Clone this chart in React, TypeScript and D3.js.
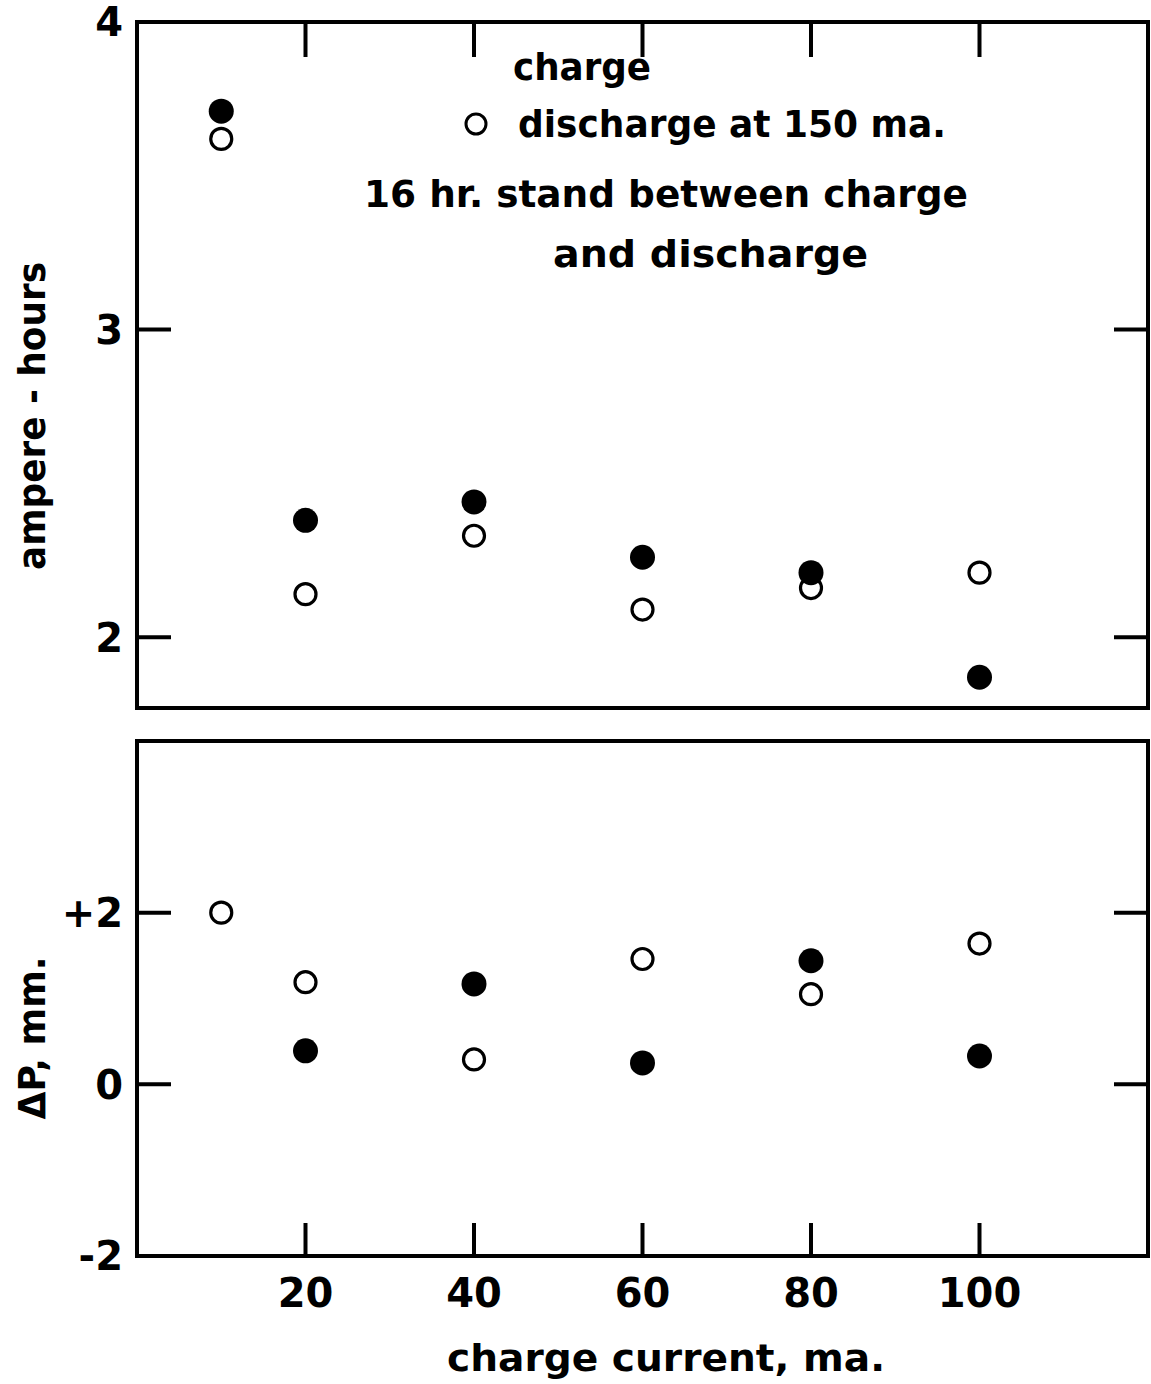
import * as d3 from 'd3'

// charge current, ma.
const currents = [10, 20, 40, 60, 80, 100]

// ampere-hours (top panel)
const chargeAh = [3.71, 2.38, 2.44, 2.26, 2.21, 1.87]
const dischargeAh = [3.62, 2.14, 2.33, 2.09, 2.16, 2.21]

// delta P, mm. (bottom panel); no charge point visible at 10 ma.
const chargeDP: (number | null)[] = [null, 0.39, 1.17, 0.25, 1.44, 0.33]
const dischargeDP = [2.0, 1.19, 0.29, 1.46, 1.05, 1.64]

const xTicks = [20, 40, 60, 80, 100]
const topTicks = [2, 3, 4]
const bottomTicks = [-2, 0, 2]
const bottomTickLabels = ['-2', '0', '+2']

const W = 1151
const H = 1384
const FONT = '"DejaVu Sans", Verdana, sans-serif'
const INK = '#000'

const left = 137
const right = 1148

const x = d3.scaleLinear().domain([0, 120]).range([left, right])
const yTop = d3.scaleLinear().domain([1.77, 4]).range([708, 22])
const yBot = d3.scaleLinear().domain([-2, 4]).range([1256, 741])

function Marker({ cx, cy, filled }: { cx: number; cy: number; filled: boolean }) {
  return filled
    ? <circle cx={cx} cy={cy} r={12.5} fill={INK} />
    : <circle cx={cx} cy={cy} r={10.5} fill="#fff" stroke={INK} strokeWidth={3.2} />
}

function Panel({
  y, yTicks, yLabels, charge, discharge, xTickLen, bottomTicksOn
}: {
  y: d3.ScaleLinear<number, number>
  yTicks: number[]
  yLabels: string[]
  charge: (number | null)[]
  discharge: (number | null)[]
  xTickLen: number
  bottomTicksOn: boolean
}) {
  const [y0, y1] = y.range()
  return (
    <g>
      <rect x={left} y={y1} width={right - left} height={y0 - y1} fill="none" stroke={INK} strokeWidth={4} />
      {yTicks.map((t, i) => (
        <g key={t}>
          <line x1={left} x2={left + 34} y1={y(t)} y2={y(t)} stroke={INK} strokeWidth={4} />
          <line x1={right - 34} x2={right} y1={y(t)} y2={y(t)} stroke={INK} strokeWidth={4} />
          <text x={left - 14} y={y(t)} dy="0.36em" textAnchor="end" fontFamily={FONT} fontWeight="bold" fontSize={40} fill={INK}>
            {yLabels[i]}
          </text>
        </g>
      ))}
      {xTicks.map(t => (
        <line key={t} x1={x(t)} x2={x(t)}
          y1={bottomTicksOn ? y0 : y1}
          y2={bottomTicksOn ? y0 - xTickLen : y1 + xTickLen}
          stroke={INK} strokeWidth={4} />
      ))}
      {currents.map((c, i) => discharge[i] == null ? null : (
        <Marker key={'d' + c} cx={x(c)} cy={y(discharge[i] as number)} filled={false} />
      ))}
      {currents.map((c, i) => charge[i] == null ? null : (
        <Marker key={'c' + c} cx={x(c)} cy={y(charge[i] as number)} filled={true} />
      ))}
    </g>
  )
}

export default function App() {
  const textStyle = { fontFamily: FONT, fontWeight: 'bold' as const, fill: INK }
  return (
    <svg width={W} height={H} style={{ position: 'absolute', left: 0, top: 0, background: '#fff' }}>
      <Panel y={yTop} yTicks={topTicks} yLabels={topTicks.map(String)}
        charge={chargeAh} discharge={dischargeAh} xTickLen={35} bottomTicksOn={false} />
      <Panel y={yBot} yTicks={bottomTicks} yLabels={bottomTickLabels}
        charge={chargeDP} discharge={dischargeDP} xTickLen={33} bottomTicksOn={true} />

      {/* legend */}
      <text x={513} y={80} fontSize={38} textLength={138} lengthAdjust="spacingAndGlyphs" {...textStyle}>charge</text>
      <circle cx={476} cy={124} r={10} fill="none" stroke={INK} strokeWidth={3} />
      <text x={518} y={137} fontSize={38} textLength={428} lengthAdjust="spacingAndGlyphs" {...textStyle}>discharge at 150 ma.</text>
      <text x={364} y={207} fontSize={38} textLength={604} lengthAdjust="spacingAndGlyphs" {...textStyle}>16 hr. stand between charge</text>
      <text x={553} y={267} fontSize={38} textLength={315} lengthAdjust="spacingAndGlyphs" {...textStyle}>and discharge</text>

      {/* x axis labels */}
      {xTicks.map(t => (
        <text key={t} x={x(t)} y={1307} textAnchor="middle" fontSize={40} {...textStyle}>{t}</text>
      ))}
      <text x={666} y={1371} textAnchor="middle" fontSize={38} textLength={438} lengthAdjust="spacingAndGlyphs" {...textStyle}>
        charge current, ma.
      </text>

      {/* y axis titles */}
      <text transform="translate(45,416) rotate(-90)" textAnchor="middle" fontSize={38} textLength={308} lengthAdjust="spacingAndGlyphs" {...textStyle}>
        ampere - hours
      </text>
      <text transform="translate(45,1038) rotate(-90)" textAnchor="middle" fontSize={38} textLength={163} lengthAdjust="spacingAndGlyphs" {...textStyle}>
        ΔP, mm.
      </text>
    </svg>
  )
}
